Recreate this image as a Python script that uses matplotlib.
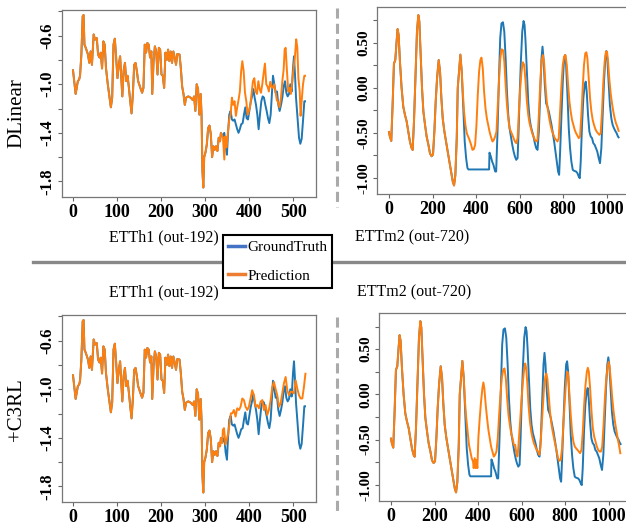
import matplotlib
matplotlib.use("Agg")
import matplotlib.pyplot as plt
from matplotlib.lines import Line2D

plt.rcParams['font.family'] = ['Liberation Serif', 'DejaVu Serif']
plt.rcParams['axes.unicode_minus'] = False

# ---------------- ETTh1 (input 336, output 192) ----------------
etth1_in_t = [0, 6, 11, 14, 16, 19, 22, 24, 26, 29, 34, 37, 40, 43, 47, 50, 54, 57, 60, 63, 66, 69, 72, 75,
              79, 83, 86, 89, 92, 95, 98, 101, 104, 107, 112, 115, 118, 121, 124, 127, 130, 133, 136, 139,
              142, 145, 148, 153, 157, 160, 163, 166, 169, 172, 175, 178, 180, 183, 186, 189, 192, 195, 198,
              201, 204, 207, 210, 213, 216, 219, 222, 225, 228, 231, 234, 237, 242, 245, 248, 251, 254, 257,
              262, 267, 272, 275, 278, 281, 284, 287, 290, 292, 294, 296, 298, 301, 304, 307, 310, 313, 316,
              319, 322, 325, 328, 331, 334, 336]
etth1_in_v = [-0.885, -1.08, -0.975, -0.96, -0.93, -0.756, -0.44, -0.43, -0.674, -0.70, -0.756, -0.824, -0.73,
              -0.84, -0.59, -0.633, -0.62, -0.756, -0.78, -0.74, -0.87, -0.647, -0.674, -0.87, -1.0, -1.11,
              -1.19, -1.11, -0.674, -0.625, -0.78, -0.95, -0.84, -0.77, -1.10, -0.89, -0.824, -0.975, -0.93,
              -1.03, -1.14, -1.24, -1.08, -0.84, -0.824, -0.89, -0.975, -1.03, -1.07, -1.03, -0.674, -0.74,
              -0.66, -0.674, -0.78, -0.73, -1.08, -0.81, -0.688, -0.73, -0.92, -0.70, -0.715, -0.92, -0.93,
              -1.03, -0.74, -0.80, -0.715, -0.81, -0.73, -0.824, -0.73, -0.78, -0.84, -0.75, -0.756, -0.87,
              -1.02, -1.08, -1.17, -1.11, -1.10, -1.11, -1.13, -1.10, -1.22, -1.0, -1.04, -1.25, -1.08, -1.25,
              -1.71, -1.85, -1.60, -1.56, -1.495, -1.36, -1.34, -1.41, -1.60, -1.51, -1.54, -1.51, -1.55,
              -1.44, -1.47, -1.40]

etth1_true_t = [340.7, 343.7, 346.7, 349.7, 352, 355, 358, 361, 364, 367, 370, 373, 376, 379, 382, 385.4,
                388.4, 391.4, 394.4, 397.5, 400.5, 403.5, 406.6, 409.6, 412.6, 415.7, 418.7, 421.7, 424.7,
                427.8, 430.8, 433.8, 436.9, 439.9, 443, 446, 449, 452, 454.3, 457.3, 460.3, 463.4, 466.4,
                469.4, 472.5, 475.5, 478.5, 481.6, 484.6, 487.6, 490.7, 493.7, 496.7, 499.7, 502, 504.3,
                506.6, 508.8, 511, 513.4, 516.4, 519.4, 522.5, 525.5, 527]
etth1_true_v = [-1.43, -1.40, -1.52, -1.58, -1.41, -1.25, -1.22, -1.29, -1.30, -1.29, -1.33, -1.37, -1.40,
                -1.37, -1.33, -1.32, -1.25, -1.19, -1.28, -1.29, -1.22, -1.15, -1.10, -1.04, -1.11, -1.17,
                -1.25, -1.37, -1.25, -1.14, -1.10, -1.11, -1.17, -1.22, -1.28, -1.32, -1.25, -1.06, -0.93,
                -1.0, -1.07, -1.06, -1.17, -1.22, -1.17, -1.11, -1.02, -0.975, -1.07, -1.10, -1.08, -1.0,
                -1.06, -0.87, -0.77, -0.92, -1.11, -1.22, -1.33, -1.44, -1.49, -1.45, -1.30, -1.14, -1.14]

etth1_dlinear_t = [337.6, 340.7, 343.7, 346, 349, 352, 355, 358, 361, 364, 367, 370, 373, 376, 379, 382,
                   384.6, 387.6, 390.7, 393.7, 396.7, 399.7, 402.8, 405.8, 408.8, 411.9, 414.9, 418, 421,
                   424, 427, 430, 433, 436, 439, 442, 445, 448, 451, 454, 457, 460, 463, 466, 469, 472.5,
                   475.5, 478.5, 480.8, 483, 486, 489, 492, 495, 498, 501, 504, 507, 509.6, 512, 515, 517,
                   519.4, 522.5, 525.5, 527]
etth1_dlinear_v = [-1.41, -1.44, -1.62, -1.43, -1.52, -1.39, -1.29, -1.25, -1.11, -1.17, -1.14, -1.26,
                   -1.19, -1.13, -1.06, -0.89, -0.81, -0.89, -1.07, -1.14, -1.25, -1.22, -1.17, -1.07,
                   -0.975, -0.95, -1.06, -1.08, -0.975, -1.04, -1.07, -1.0, -0.91, -0.83, -1.0, -1.02,
                   -1.06, -0.98, -1.02, -1.03, -1.0, -1.06, -1.13, -1.15, -1.19, -1.11, -0.975, -0.88,
                   -0.715, -0.70, -0.89, -1.06, -1.03, -1.08, -0.975, -0.87, -0.78, -0.63, -0.70, -0.95,
                   -1.06, -1.26, -1.14, -1.0, -0.93, -0.93]

etth1_c3rl_t = [339, 340.5, 343, 346.6, 352.7, 358.7, 361.8, 365.5, 369.3, 373, 377, 380.7, 384.5, 388.3,
                392, 396, 399.6, 403.4, 407, 411, 414.8, 418.6, 422.4, 426, 430, 433.7, 437.5, 441.3, 445,
                449, 452.7, 456.5, 460, 464, 467.8, 471.6, 475.4, 479, 483, 486.8, 490.6, 494.3, 498, 502,
                505.7, 509.5, 513.3, 517, 520.9, 524.6, 528]
etth1_c3rl_v = [-1.443, -1.334, -1.32, -1.457, -1.36, -1.198, -1.198, -1.171, -1.225, -1.157, -1.171,
                -1.144, -1.076, -1.089, -1.144, -1.171, -1.144, -1.076, -1.008, -1.049, -1.144, -1.13,
                -1.157, -1.103, -1.089, -1.171, -1.13, -1.212, -1.171, -1.089, -0.981, -0.94, -0.994,
                -1.049, -1.144, -1.117, -1.035, -0.953, -0.899, -1.008, -1.049, -1.021, -1.021, -1.035,
                -0.926, -0.994, -1.049, -1.076, -1.076, -0.981, -0.872]

# ---------------- ETTm2 (input 336, output 720) ----------------
ettm2_in_t = [0, 4, 10.5, 16.7, 22.8, 29, 35, 39.7, 44.3, 50.5, 58, 65.8, 73.5, 81, 88.8, 96.5, 104, 108.8,
              115, 122.6, 128.7, 134.9, 139.5, 145.6, 151.8, 158, 165.6, 173, 181, 188.6, 196, 202.4, 208.6,
              214.7, 221, 228.5, 234.7, 240.8, 247, 254.6, 262.3, 270, 277.6, 285.3, 293, 299, 305, 311.4,
              316, 322, 328, 334.4]
ettm2_in_v = [-0.49, -0.54, -0.59, -0.19, 0.27, 0.31, 0.515, 0.655, 0.59, 0.29, 0.0, -0.21, -0.30, -0.37,
              -0.485, -0.60, -0.67, -0.69, -0.37, 0.18, 0.63, 0.81, 0.74, 0.37, 0.0, -0.26, -0.41, -0.54,
              -0.63, -0.73, -0.76, -0.74, -0.485, -0.15, 0.11, 0.31, 0.18, -0.115, -0.34, -0.485, -0.60,
              -0.71, -0.82, -0.93, -1.04, -1.085, -0.97, -0.56, 0.0, 0.18, 0.37, 0.18]

ettm2_true_t = [339, 343.6, 348, 354.4, 360.5, 365, 460, 461.8, 468, 474, 480, 488, 492.5, 498.7, 505, 511,
                517, 523.7, 529.8, 536, 542, 548, 554, 560.4, 566.5, 572.6, 578.7, 584.8, 591, 595.5, 600,
                606, 612.3, 618.4, 623, 627.5, 633.7, 639.8, 645.9, 652, 658, 664, 670.3, 676.4, 682.5,
                688.6, 694.7, 700.8, 705.4, 710, 716, 722, 728, 734.4, 740.5, 746.7, 752.8, 758.9, 765, 771,
                777, 781.8, 786.4, 792.5, 798.6, 804.7, 809.3, 813.8, 820, 826, 832, 838, 844.4, 850.5,
                859.7, 865.8, 871.9, 876.5, 881, 887, 893, 899.4, 904, 908.5, 914.6, 920.7, 926.8, 933, 939,
                945, 951, 957, 963.5, 969.6, 975.7, 981.8, 988, 994, 998.6, 1003, 1009, 1015, 1021.5,
                1027.6, 1033.7, 1039.8, 1046, 1052, 1055]
ettm2_true_v = [-0.078, -0.337, -0.596, -0.78, -0.89, -0.907, -0.907, -0.72, -0.763, -0.819, -0.856, -0.93,
                -0.93, -0.485, 0.07, 0.552, 0.718, 0.73, 0.626, 0.33, -0.041, -0.30, -0.448, -0.54, -0.633,
                -0.707, -0.763, -0.80, -0.78, -0.485, -0.115, 0.292, 0.626, 0.744, 0.70, 0.515, 0.181,
                -0.152, -0.337, -0.43, -0.485, -0.54, -0.615, -0.67, -0.689, -0.485, -0.078, 0.33, 0.459,
                0.33, 0.033, -0.17, -0.208, -0.263, -0.337, -0.411, -0.504, -0.596, -0.707, -0.819, -0.93,
                -0.967, -0.707, -0.30, 0.07, 0.33, 0.366, 0.255, -0.078, -0.448, -0.67, -0.819, -0.911,
                -0.922, -0.93, -0.948, -0.985, -1.004, -0.819, -0.411, -0.115, 0.033, 0.07, -0.041, -0.30,
                -0.485, -0.54, -0.559, -0.615, -0.633, -0.67, -0.707, -0.78, -0.837, -0.67, -0.30, 0.07,
                0.33, 0.41, 0.33, 0.07, -0.189, -0.337, -0.411, -0.448, -0.478, -0.504, -0.54, -0.55]

ettm2_dlinear_t = [339, 345, 351, 357.5, 363.6, 370, 377.4, 383.5, 389.7, 395.8, 402, 408, 414, 420, 425,
                   431, 437, 443.4, 449.6, 455.7, 462, 468, 475.6, 481.8, 488, 494, 500, 506, 511.5, 517.5,
                   524, 530, 536, 542, 548, 554, 560.4, 566.5, 572.6, 578.7, 584.8, 591, 597, 603, 609, 615,
                   621.4, 627.5, 633.7, 639.8, 645.9, 652, 658, 664, 670.3, 676.4, 682.5, 688.6, 694.7,
                   700.8, 707, 713, 719, 725, 731.4, 737.5, 743.6, 749.7, 755.8, 762, 768, 774, 780, 786.4,
                   792.5, 798.6, 804.7, 810.8, 817, 823, 829, 835, 841, 847.4, 853.5, 859.7, 865.8, 871.9,
                   878, 884, 890, 896, 902, 907, 911.6, 917.7, 923.8, 930, 936, 942, 948, 954, 960.4, 966.5,
                   972.7, 978.8, 985, 991, 997, 1001.7, 1006, 1012, 1018.5, 1024.6, 1030.7, 1036.8, 1043,
                   1049, 1055]
ettm2_dlinear_v = [-0.04, -0.263, -0.411, -0.504, -0.54, -0.578, -0.633, -0.689, -0.682, -0.633, -0.411,
                   -0.078, 0.181, 0.311, 0.337, 0.218, -0.041, -0.226, -0.337, -0.411, -0.485, -0.54, -0.596,
                   -0.578, -0.54, -0.485, -0.189, 0.107, 0.33, 0.43, 0.42, 0.29, 0.033, -0.189, -0.337,
                   -0.448, -0.485, -0.522, -0.559, -0.596, -0.615, -0.559, -0.263, -0.004, 0.181, 0.285,
                   0.255, 0.07, -0.152, -0.30, -0.393, -0.448, -0.504, -0.54, -0.578, -0.596, -0.578, -0.30,
                   0.033, 0.292, 0.366, 0.274, 0.033, -0.152, -0.263, -0.356, -0.43, -0.485, -0.522, -0.559,
                   -0.578, -0.596, -0.559, -0.263, 0.033, 0.255, 0.348, 0.366, 0.255, 0.033, -0.152, -0.263,
                   -0.356, -0.411, -0.467, -0.504, -0.53, -0.559, -0.54, -0.30, -0.004, 0.255, 0.385, 0.396,
                   0.33, 0.107, -0.115, -0.263, -0.356, -0.411, -0.456, -0.485, -0.504, -0.522, -0.504,
                   -0.263, 0.07, 0.292, 0.404, 0.404, 0.311, 0.107, -0.059, -0.17, -0.263, -0.337, -0.393,
                   -0.43, -0.478]

ettm2_c3rl_t = [340, 346, 352, 358.5, 364.6, 370.8, 377, 380, 384.6, 389, 392.3, 397, 401.5, 407.7, 413.8,
                420, 424.6, 429, 435.4, 441.5, 447.7, 453.8, 460, 466, 472.3, 478.4, 484.6, 490.7, 496.9,
                503, 509, 515.4, 521.5, 527.7, 533.8, 540, 546, 552.3, 558.4, 564.6, 570.7, 576.9, 581.5,
                586, 592, 598.4, 604.6, 610.7, 616.9, 621.5, 626, 632, 638.4, 644.5, 650.7, 656.8, 663, 669,
                675.3, 681.5, 686, 690.7, 696.8, 703, 709, 713.8, 718.4, 724.5, 730.7, 736.8, 743, 749,
                755.3, 761.4, 767.6, 773.7, 779.8, 786, 792, 798.3, 804.4, 810.6, 815, 820, 826, 832, 838,
                844.5, 850.6, 856.8, 863, 869, 875.2, 881.4, 887.5, 893.7, 899.9, 904.5, 909, 915, 921.4,
                927.5, 933.7, 939.8, 946, 952, 958.3, 964.4, 970.6, 976.8, 982.9, 989, 995.2, 999.8,
                1004.4, 1010.6, 1016.7, 1022.9, 1029, 1035.2, 1041.3, 1047.5, 1053.7]
ettm2_c3rl_v = [-0.081, -0.265, -0.412, -0.559, -0.633, -0.706, -0.743, -0.816, -0.706, -0.816, -0.725,
                -0.816, -0.486, -0.265, -0.081, 0.066, 0.132, 0.066, -0.118, -0.265, -0.394, -0.486, -0.578,
                -0.633, -0.688, -0.669, -0.633, -0.486, -0.228, -0.008, 0.176, 0.268, 0.287, 0.176, -0.044,
                -0.228, -0.338, -0.43, -0.486, -0.559, -0.559, -0.669, -0.688, -0.559, -0.338, -0.118,
                0.103, 0.25, 0.342, 0.287, 0.14, -0.118, -0.302, -0.412, -0.486, -0.541, -0.578, -0.614,
                -0.633, -0.669, -0.597, -0.412, -0.155, 0.066, 0.195, 0.231, 0.176, -0.008, -0.191, -0.32,
                -0.412, -0.486, -0.559, -0.633, -0.706, -0.736, -0.725, -0.597, -0.338, -0.081, 0.14, 0.25,
                0.195, -0.008, -0.228, -0.412, -0.522, -0.578, -0.597, -0.614, -0.633, -0.651, -0.614,
                -0.412, -0.118, 0.103, 0.25, 0.294, 0.25, 0.066, -0.191, -0.375, -0.467, -0.522, -0.578,
                -0.614, -0.633, -0.633, -0.578, -0.338, -0.044, 0.176, 0.305, 0.36, 0.305, 0.14, -0.044,
                -0.191, -0.302, -0.394, -0.486, -0.559, -0.651]

row_labels = ["DLinear", "+C3RL"]
col_titles = ["ETTh1 (out-192)", "ETTm2 (out-720)"]
legend_labels = ["GroundTruth", "Prediction"]

etth1_xticks = [0, 100, 200, 300, 400, 500]
etth1_yticks = [-1.8, -1.6, -1.4, -1.2, -1.0, -0.8, -0.6, -0.4]
etth1_ylabels = ["-1.8", "", "-1.4", "", "-1.0", "", "-0.6", ""]
ettm2_xticks = [0, 200, 400, 600, 800, 1000]
ettm2_yticks = [-1.0, -0.75, -0.5, -0.25, 0.0, 0.25, 0.5, 0.75]
ettm2_ylabels = ["-1.00", "", "-0.50", "", "0.00", "", "0.50", ""]

BLUE = "#1f77b4"
ORANGE = "#ff7f0e"

W, H = 626, 525
fig = plt.figure(figsize=(W / 100, H / 100), dpi=100)


def box(x0, y0, x1, y1):
    return [x0 / W, 1 - y1 / H, (x1 - x0) / W, (y1 - y0) / H]


def style(ax, xticks, yticks, ylabels, xlim, ylim, ysize):
    ax.set_xlim(*xlim)
    ax.set_ylim(*ylim)
    ax.set_xticks(xticks)
    ax.set_xticklabels([str(t) for t in xticks], fontweight="bold", fontsize=13)
    ax.set_yticks(yticks)
    ax.set_yticklabels(ylabels, fontweight="bold", fontsize=ysize, rotation=90, va="center")
    ax.tick_params(axis="both", length=3, width=0.8, color="#666666", pad=2)
    for s in ax.spines.values():
        s.set_color("#777777")
        s.set_linewidth(0.9)


def draw(ax, in_t, in_v, true_t, true_v, pred_t, pred_v):
    ax.plot(in_t + true_t, in_v + true_v, color=BLUE, lw=1.4)
    ax.plot(in_t + pred_t, in_v + pred_v, color=ORANGE, lw=1.4)


h1_xlim = (-25, 552)
h1_ylim = (-1.928, -0.389)
m2_xlim = (-55, 1112)
m2_ylim = (-1.18, 0.90)

ax1 = fig.add_axes(box(62, 10, 316, 197))
draw(ax1, etth1_in_t, etth1_in_v, etth1_true_t, etth1_true_v, etth1_dlinear_t, etth1_dlinear_v)
style(ax1, etth1_xticks, etth1_yticks, etth1_ylabels, h1_xlim, h1_ylim, 12)

ax2 = fig.add_axes(box(377, 7, 631, 194))
draw(ax2, ettm2_in_t, ettm2_in_v, ettm2_true_t, ettm2_true_v, ettm2_dlinear_t, ettm2_dlinear_v)
style(ax2, ettm2_xticks, ettm2_yticks, ettm2_ylabels, m2_xlim, m2_ylim, 11)

ax3 = fig.add_axes(box(62, 315, 316, 502))
draw(ax3, etth1_in_t, etth1_in_v, etth1_true_t, etth1_true_v, etth1_c3rl_t, etth1_c3rl_v)
style(ax3, etth1_xticks, etth1_yticks, etth1_ylabels, h1_xlim, h1_ylim, 12)

ax4 = fig.add_axes(box(379, 313, 633, 501))
draw(ax4, ettm2_in_t, ettm2_in_v, ettm2_true_t, ettm2_true_v, ettm2_c3rl_t, ettm2_c3rl_v)
style(ax4, ettm2_xticks, ettm2_yticks, ettm2_ylabels, m2_xlim, m2_ylim, 11)

# row labels
fig.text(17 / W, 1 - 113 / H, row_labels[0], rotation=90, fontsize=15, ha="center", va="center")
fig.text(17 / W, 1 - 410 / H, row_labels[1], rotation=90, fontsize=15, ha="center", va="center")

# column titles
fig.text(164 / W, 1 - 237 / H, col_titles[0], fontsize=11.5, ha="center", va="center")
fig.text(412 / W, 1 - 237 / H, col_titles[1], fontsize=11.5, ha="center", va="center")
fig.text(164 / W, 1 - 292 / H, col_titles[0], fontsize=11.5, ha="center", va="center")
fig.text(414 / W, 1 - 292 / H, col_titles[1], fontsize=11.5, ha="center", va="center")

# separators
fig.add_artist(Line2D([33 / W, 1.0], [1 - 262 / H, 1 - 262 / H], color="#888888", lw=2.4,
                      transform=fig.transFigure))
for (ya, yb) in [(8, 207), (317, 512)]:
    fig.add_artist(Line2D([337 / W, 337 / W], [1 - ya / H, 1 - yb / H], color="#aaaaaa", lw=2.2,
                          linestyle=(0, (3.3, 1.7)), transform=fig.transFigure))

handles = [Line2D([], [], color="#4472c4", lw=2.5), Line2D([], [], color="#ed7d31", lw=2.5)]
leg = fig.legend(handles, legend_labels, loc="center", bbox_to_anchor=(277.5 / W, 1 - 261.5 / H),
                 fontsize=11, frameon=True, fancybox=False, framealpha=1, edgecolor="black",
                 handlelength=1.1, handletextpad=0.15, labelspacing=1.0, borderpad=0.35,
                 borderaxespad=0)
leg.get_frame().set_linewidth(1.5)

fig.savefig("out.png", dpi=100)
